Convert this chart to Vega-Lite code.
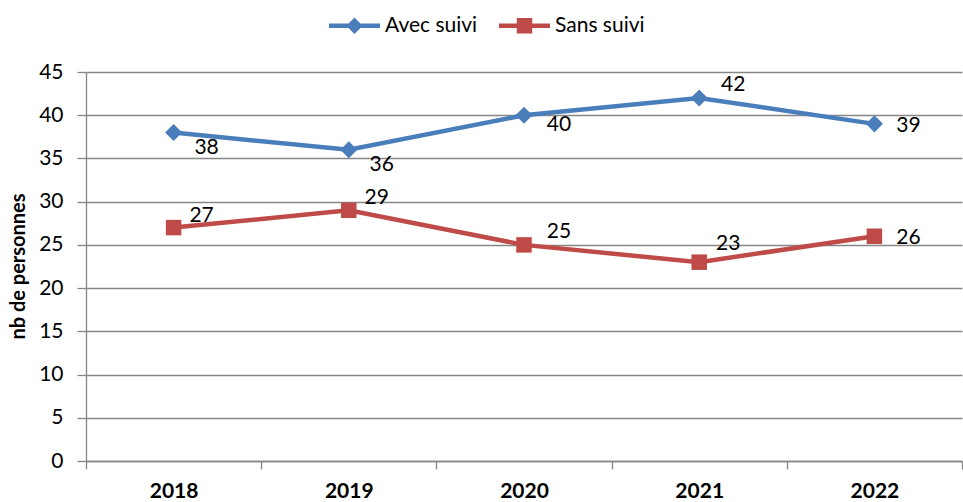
{
  "$schema": "https://vega.github.io/schema/vega-lite/v6.json",
  "width": 876,
  "height": 389,
  "autosize": {"type": "none"},
  "padding": {"left": 86, "top": 72, "right": 1, "bottom": 41},
  "background": "white",
  "config": {
    "view": {"stroke": null},
    "font": "Lato",
    "axis": {"labelFont": "Lato", "titleFont": "Lato", "labelColor": "#000", "titleColor": "#000", "domainColor": "#868686", "tickColor": "#868686", "gridColor": "#868686", "domainWidth": 1.3, "tickWidth": 1.3, "gridWidth": 1.3}
  },
  "data": {
    "values": [
      {"annee": 2018, "serie": "Avec suivi", "valeur": 38},
      {"annee": 2019, "serie": "Avec suivi", "valeur": 36},
      {"annee": 2020, "serie": "Avec suivi", "valeur": 40},
      {"annee": 2021, "serie": "Avec suivi", "valeur": 42},
      {"annee": 2022, "serie": "Avec suivi", "valeur": 39},
      {"annee": 2018, "serie": "Sans suivi", "valeur": 27},
      {"annee": 2019, "serie": "Sans suivi", "valeur": 29},
      {"annee": 2020, "serie": "Sans suivi", "valeur": 25},
      {"annee": 2021, "serie": "Sans suivi", "valeur": 23},
      {"annee": 2022, "serie": "Sans suivi", "valeur": 26}
    ]
  },
  "encoding": {
    "x": {
      "field": "annee", "type": "nominal",
      "scale": {"type": "band", "paddingInner": 0, "paddingOuter": 0},
      "axis": {"title": null, "labelAngle": 0, "labelFontSize": 21, "labelFontWeight": "bold", "tickBand": "extent", "tickSize": 8, "labelPadding": 11, "grid": false, "labelBaseline": "top"}
    },
    "y": {
      "field": "valeur", "type": "quantitative",
      "scale": {"domain": [0, 45], "nice": false},
      "axis": {"title": "nb de personnes", "values": [0, 5, 10, 15, 20, 25, 30, 35, 40, 45], "labelFontSize": 21, "tickSize": 9, "labelPadding": 14, "titleFontSize": 20, "titleFontWeight": "bold", "titleX": -68, "titleY": 194, "titleAngle": -90, "titleAlign": "center", "titleBaseline": "middle", "grid": true}
    }
  },
  "layer": [
    {
      "mark": {"type": "line", "strokeWidth": 4.5},
      "encoding": {
        "color": {
          "field": "serie", "type": "nominal",
          "scale": {"domain": ["Avec suivi", "Sans suivi"], "range": ["#4A7EBB", "#BE4B48"]},
          "legend": {
            "title": null, "orient": "none", "direction": "horizontal", "legendX": 258, "legendY": -57,
            "labelFont": "Lato", "labelFontSize": 21, "labelColor": "#000",
            "symbolSize": 100, "labelOffset": 20, "columnPadding": 21, "padding": 0,
            "symbolType": {"expr": "datum.value === 'Avec suivi' ? 'M-5.1,-0.45H5.1V0.45H-5.1Z M0,-1.65L1.65,0L0,1.65L-1.65,0Z' : 'M-5.1,-0.45H5.1V0.45H-5.1Z M-1.55,-1.55H1.55V1.55H-1.55Z'"},
            "encode": {
              "symbols": {
                "update": {
                  "shape": {"signal": "datum.value === 'Avec suivi' ? 'M-5.1,-0.45H5.1V0.45H-5.1Z M0,-1.65L1.65,0L0,1.65L-1.65,0Z' : 'M-5.1,-0.45H5.1V0.45H-5.1Z M-1.55,-1.55H1.55V1.55H-1.55Z'"},
                  "fill": {"signal": "datum.value === 'Avec suivi' ? '#4A7EBB' : '#BE4B48'"},
                  "stroke": {"value": "transparent"},
                  "strokeWidth": {"value": 0},
                  "opacity": {"value": 1},
                  "fillOpacity": {"value": 1}
                }
              }
            }
          }
        }
      }
    },
    {
      "transform": [{"filter": "datum.serie === 'Avec suivi'"}],
      "mark": {"type": "point", "filled": true, "opacity": 1, "strokeWidth": 0, "shape": "diamond", "size": 290, "color": "#4A7EBB"}
    },
    {
      "transform": [{"filter": "datum.serie === 'Sans suivi'"}],
      "mark": {"type": "point", "filled": true, "opacity": 1, "strokeWidth": 0, "shape": "square", "size": 240, "color": "#BE4B48"}
    },
    {
      "transform": [{"filter": "datum.serie === 'Avec suivi' && datum.annee <= 2019"}],
      "mark": {"type": "text", "fontSize": 21, "font": "Lato", "color": "#000", "align": "center", "baseline": "middle", "dx": 33, "dy": 15},
      "encoding": {"text": {"field": "valeur", "type": "quantitative"}}
    },
    {
      "transform": [{"filter": "datum.serie === 'Avec suivi' && datum.annee === 2020"}],
      "mark": {"type": "text", "fontSize": 21, "font": "Lato", "color": "#000", "align": "center", "baseline": "middle", "dx": 35, "dy": 10},
      "encoding": {"text": {"field": "valeur", "type": "quantitative"}}
    },
    {
      "transform": [{"filter": "datum.serie === 'Avec suivi' && datum.annee === 2021"}],
      "mark": {"type": "text", "fontSize": 21, "font": "Lato", "color": "#000", "align": "center", "baseline": "middle", "dx": 34, "dy": -13},
      "encoding": {"text": {"field": "valeur", "type": "quantitative"}}
    },
    {
      "transform": [{"filter": "datum.annee === 2022"}],
      "mark": {"type": "text", "fontSize": 21, "font": "Lato", "color": "#000", "align": "center", "baseline": "middle", "dx": 34, "dy": 2},
      "encoding": {"text": {"field": "valeur", "type": "quantitative"}}
    },
    {
      "transform": [{"filter": "datum.serie === 'Sans suivi' && datum.annee <= 2019"}],
      "mark": {"type": "text", "fontSize": 21, "font": "Lato", "color": "#000", "align": "center", "baseline": "middle", "dx": 28, "dy": -12},
      "encoding": {"text": {"field": "valeur", "type": "quantitative"}}
    },
    {
      "transform": [{"filter": "datum.serie === 'Sans suivi' && datum.annee === 2020"}],
      "mark": {"type": "text", "fontSize": 21, "font": "Lato", "color": "#000", "align": "center", "baseline": "middle", "dx": 35, "dy": -13},
      "encoding": {"text": {"field": "valeur", "type": "quantitative"}}
    },
    {
      "transform": [{"filter": "datum.serie === 'Sans suivi' && datum.annee === 2021"}],
      "mark": {"type": "text", "fontSize": 21, "font": "Lato", "color": "#000", "align": "center", "baseline": "middle", "dx": 29, "dy": -18},
      "encoding": {"text": {"field": "valeur", "type": "quantitative"}}
    }
  ]
}
